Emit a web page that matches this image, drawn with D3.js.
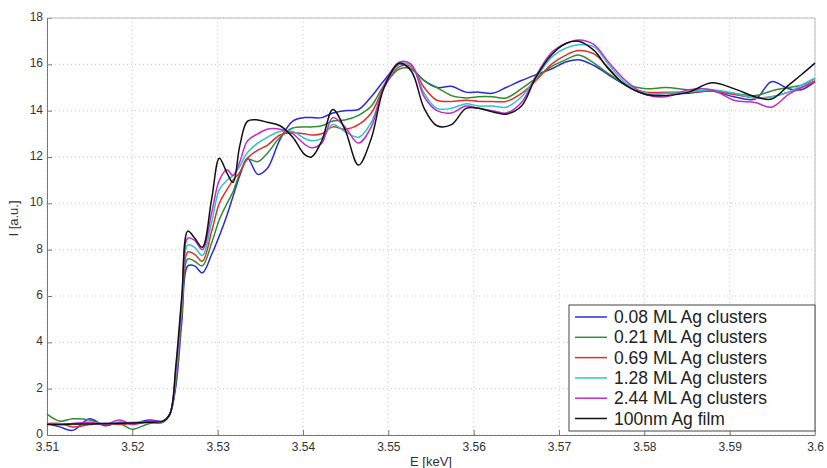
<!DOCTYPE html>
<html>
<head>
<meta charset="utf-8">
<script src="https://d3js.org/d3.v7.min.js"></script>
<style>
  body { margin: 0; background: #fff; }
  text { font-family: Arial, "Liberation Sans", sans-serif; }
</style>
</head>
<body>
<div id="chart"></div>
<script>
// energy grid (keV), shared by all series
var energy = [3.510, 3.5115, 3.513, 3.515, 3.5168, 3.5185, 3.520, 3.522, 3.5236, 3.5244,
  3.5251, 3.5258, 3.5265, 3.5273, 3.5282, 3.5293, 3.5302, 3.5311, 3.5318, 3.5326,
  3.5335, 3.5347, 3.5358, 3.5373, 3.5388, 3.5402, 3.541, 3.5422, 3.5435, 3.5449,
  3.5465, 3.548, 3.5495, 3.5513, 3.5527, 3.5542, 3.5557, 3.5574, 3.5591, 3.5606,
  3.5622, 3.5638, 3.5656, 3.5673, 3.5691, 3.5708, 3.5723, 3.5741, 3.5758, 3.5778,
  3.5802, 3.5825, 3.5852, 3.5879, 3.5905, 3.593, 3.5949, 3.5969, 3.5984, 3.600];

var ml008 = [0.5, 0.35, 0.2, 0.7, 0.4, 0.55, 0.5, 0.65, 0.6, 0.9,
  2.1, 4.9, 7.3, 7.3, 7.0, 7.8, 8.6, 9.5, 10.3, 11.2,
  11.95, 11.25, 11.5, 12.75, 13.55, 13.7, 13.7, 13.7, 13.9, 14.0,
  14.05, 14.6, 15.3, 16.0, 15.8, 15.3, 15.0, 15.05, 14.8, 14.8,
  14.75, 15.0, 15.3, 15.55, 15.8, 16.1, 16.2, 15.95, 15.55, 15.1,
  14.7, 14.75, 14.75, 14.85, 14.6, 14.5, 15.25, 14.95, 14.9, 15.25];

var ml021 = [0.9, 0.6, 0.7, 0.65, 0.45, 0.5, 0.25, 0.5, 0.55, 0.9,
  2.3, 5.2, 7.6, 7.5, 7.3, 8.3, 9.3, 10.0, 10.5, 11.3,
  11.9, 11.8, 12.15, 12.85, 13.25, 13.3, 13.3, 13.35, 13.55, 13.6,
  13.8, 14.2, 15.1, 15.8, 15.8, 15.3, 15.0, 14.65, 14.55, 14.6,
  14.6, 14.55, 14.95, 15.4, 15.9, 16.2, 16.4, 16.05, 15.6, 15.15,
  14.95, 15.0, 14.9, 14.85, 14.75, 14.65, 14.85, 15.0, 15.1, 15.4];

var ml069 = [0.5, 0.5, 0.35, 0.45, 0.5, 0.45, 0.5, 0.55, 0.6, 0.9,
  2.5, 5.4, 7.9, 7.8, 7.5, 8.8, 10.0, 10.6, 11.0, 11.35,
  11.95, 12.3, 12.5, 12.95, 13.05, 13.0, 12.95, 13.0, 13.3, 13.2,
  13.4, 13.9, 15.0, 15.9, 15.9, 15.0, 14.45, 14.4, 14.45, 14.4,
  14.4, 14.4, 14.75, 15.3, 16.0, 16.4, 16.6, 16.45, 15.85, 15.1,
  14.8, 14.8, 14.8, 14.85, 14.7, 14.55, 14.6, 14.8, 15.0, 15.25];

var ml128 = [0.45, 0.5, 0.45, 0.5, 0.5, 0.5, 0.55, 0.55, 0.6, 0.9,
  2.6, 5.6, 8.2, 8.1, 7.75, 9.2, 10.6, 11.0, 11.2, 11.6,
  12.2, 12.6, 12.85, 13.1, 13.1, 12.8, 12.7, 12.8, 13.4, 13.1,
  12.85, 13.5, 15.0, 16.0, 15.95, 14.75, 14.1, 14.1, 14.3, 14.2,
  14.2, 14.15, 14.6, 15.4, 16.3, 16.7, 16.85, 16.75, 16.0, 15.2,
  14.75, 14.75, 14.8, 14.9, 14.75, 14.55, 14.6, 14.8, 15.1, 15.4];

var ml244 = [0.5, 0.45, 0.5, 0.55, 0.45, 0.65, 0.45, 0.6, 0.6, 0.9,
  2.8, 5.8, 8.5, 8.4, 8.0, 9.6, 11.0, 11.45, 11.2, 11.8,
  12.7, 13.0, 13.2, 13.2, 13.0, 12.55, 12.4, 12.6, 13.7, 13.3,
  12.6, 13.3, 15.1, 16.1, 16.0, 14.6, 14.0, 13.9, 14.2, 14.1,
  14.0, 13.9, 14.35, 15.5, 16.5, 16.9, 17.05, 16.85, 16.1, 15.3,
  14.7, 14.6, 14.9, 14.9, 14.45, 14.35, 14.15, 14.7, 15.0, 15.3];

var film = [0.45, 0.45, 0.47, 0.48, 0.5, 0.5, 0.52, 0.55, 0.6, 0.9,
  3.0, 6.0, 8.8, 8.5, 8.1, 10.2, 11.95, 11.3, 10.9, 12.5,
  13.55, 13.6, 13.5, 13.35, 12.85, 12.1, 12.0, 12.7, 14.05, 13.2,
  11.65, 12.8, 15.0, 16.05, 15.7, 14.1, 13.35, 13.4, 14.1, 14.1,
  13.95, 13.85, 14.2, 15.45, 16.4, 16.9, 17.0, 16.6, 15.8, 15.1,
  14.7, 14.65, 14.8, 15.2, 14.95, 14.6, 14.5, 15.1, 15.55, 16.05];

var seriesNames = ["0.08 ML Ag clusters", "0.21 ML Ag clusters", "0.69 ML Ag clusters",
  "1.28 ML Ag clusters", "2.44 ML Ag clusters", "100nm Ag film"];
var seriesValues = [ml008, ml021, ml069, ml128, ml244, film];
var seriesColors = ["#2b2bd6", "#2f8f2f", "#e0302a", "#2ec4cc", "#c02ec8", "#111111"];

var xTicks = [3.51, 3.52, 3.53, 3.54, 3.55, 3.56, 3.57, 3.58, 3.59, 3.60];
var yTicks = [0, 2, 4, 6, 8, 10, 12, 14, 16, 18];

// dimensions
var margin = {top: 18, right: 12, bottom: 33, left: 47},
    width = 827 - margin.left - margin.right,
    height = 468 - margin.top - margin.bottom;

var svg = d3.select("#chart")
    .append("svg")
    .attr("width", 827)
    .attr("height", 468)
    .append("g")
    .attr("transform", "translate(" + margin.left + "," + margin.top + ")");

var x = d3.scaleLinear().domain([3.51, 3.60]).range([0, width]);
var y = d3.scaleLinear().domain([0, 18]).range([height, 0]);

// grid
svg.append("g")
    .selectAll("line")
    .data(xTicks)
    .join("line")
    .attr("x1", d => x(d)).attr("x2", d => x(d))
    .attr("y1", 0).attr("y2", height)
    .attr("stroke", "#c8c8c8")
    .attr("stroke-dasharray", "1,3");
svg.append("g")
    .selectAll("line")
    .data(yTicks)
    .join("line")
    .attr("x1", 0).attr("x2", width)
    .attr("y1", d => y(d)).attr("y2", d => y(d))
    .attr("stroke", "#c8c8c8")
    .attr("stroke-dasharray", "1,3");

// axes (ticks point inward like matlab)
var xAxis = svg.append("g")
    .attr("transform", "translate(0," + height + ")")
    .call(d3.axisBottom(x).tickValues(xTicks).tickSizeInner(-5).tickSizeOuter(0).tickPadding(7)
        .tickFormat(d => d === 3.6 ? "3.6" : d3.format(".2f")(d)));
var yAxis = svg.append("g")
    .call(d3.axisLeft(y).tickValues(yTicks).tickSizeInner(-5).tickSizeOuter(0).tickPadding(4));

[xAxis, yAxis].forEach(function(a) {
    a.select(".domain").attr("stroke", "#777");
    a.selectAll(".tick line").attr("stroke", "#777");
    a.selectAll(".tick text").attr("fill", "#333").attr("font-size", "12px")
        .attr("font-family", "Arial, 'Liberation Sans', sans-serif");
});
yAxis.selectAll(".tick text").attr("dy", "0.2em");

// box top/right
svg.append("line").attr("x1", 0).attr("x2", width).attr("y1", 0).attr("y2", 0)
    .attr("stroke", "#bbb");
svg.append("line").attr("x1", width).attr("x2", width).attr("y1", 0).attr("y2", height)
    .attr("stroke", "#bbb");

// lines
var line = d3.line()
    .curve(d3.curveCatmullRom.alpha(0.5))
    .x(function(d, i) { return x(energy[i]); })
    .y(function(d) { return y(d); });

seriesValues.forEach(function(vals, k) {
    svg.append("path")
        .datum(vals)
        .attr("fill", "none")
        .attr("stroke", seriesColors[k])
        .attr("stroke-width", 1.5)
        .attr("d", line);
});

// axis labels
svg.append("text")
    .attr("x", width / 2)
    .attr("y", height + 31)
    .attr("text-anchor", "middle")
    .attr("font-size", "13px")
    .attr("fill", "#333")
    .text("E [keV]");

svg.append("text")
    .attr("transform", "translate(" + (-29) + "," + (height / 2 - 8) + ") rotate(-90)")
    .attr("text-anchor", "middle")
    .attr("font-size", "13px")
    .attr("fill", "#333")
    .text("I [a.u.]");

// legend
var lg = svg.append("g")
    .attr("transform", "translate(" + (width - 246) + "," + (height - 130) + ")");
lg.append("rect")
    .attr("width", 246)
    .attr("height", 126)
    .attr("fill", "#fff")
    .attr("stroke", "#444");
seriesNames.forEach(function(name, k) {
    var yy = 12 + k * 20.3;
    lg.append("line")
        .attr("x1", 6).attr("x2", 38)
        .attr("y1", yy).attr("y2", yy)
        .attr("stroke", seriesColors[k])
        .attr("stroke-width", 1.5);
    lg.append("text")
        .attr("x", 45)
        .attr("y", yy + 6)
        .attr("font-size", "17.5px")
        .attr("fill", "#222")
        .text(name);
});
</script>
</body>
</html>
